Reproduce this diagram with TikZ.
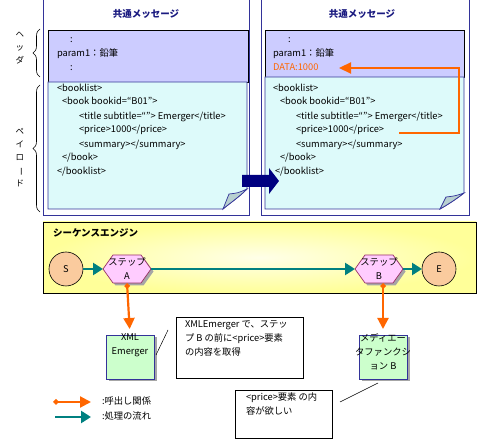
\documentclass[tikz,border=0pt]{standalone}
\usepackage{fontspec}
\usepackage{graphicx}
\setmainfont{Noto Sans CJK JP}
\usetikzlibrary{arrows.meta,shadows,backgrounds,calc,decorations.pathreplacing}
\pgfdeclarelayer{mid}
\pgfsetlayers{background,mid,main}
\definecolor{navy}{HTML}{333399}
\definecolor{titleblue}{HTML}{1A1A80}
\definecolor{arrownavy}{HTML}{000080}
\definecolor{hdr}{HTML}{CCCCFF}
\definecolor{pay}{HTML}{DDFAFA}
\definecolor{foldc}{HTML}{B8D0D0}
\definecolor{tealc}{HTML}{008080}
\definecolor{orng}{HTML}{FF6600}
\definecolor{peach}{HTML}{FACB9E}
\definecolor{pinkfill}{HTML}{FFCCFF}
\definecolor{hexborder}{HTML}{993366}
\definecolor{greenfill}{HTML}{CCFFCC}
\definecolor{ylw}{HTML}{FFFF99}
\definecolor{ylwin}{HTML}{FFFFE8}
\begin{document}
\begin{tikzpicture}[x=1pt,y=-1pt,
  every node/.style={inner sep=0pt,outer sep=0pt,font=\fontsize{9.3}{14}\selectfont},
  txt/.style={anchor=west,text height=6.5pt,text depth=1.5pt},
  ttl/.style={font=\fontsize{9.5}{12}\selectfont\bfseries,text=titleblue},
  msgbox/.style={draw=navy,fill=white,line width=0.8pt},
  hdrbox/.style={draw=black,fill=hdr,line width=0.6pt},
  paybox/.style={draw=navy,fill=pay,line width=0.8pt},
  vtext/.style={align=center,font=\fontsize{8.5}{13}\selectfont},
  flow/.style={draw=tealc,line width=2.6pt,-{Triangle[length=10pt,width=12pt]}},
  call/.style={draw=orng,line width=2.2pt,{Diamond[length=6pt,width=6pt]}-{Triangle[length=11pt,width=11pt]}},
  callr/.style={draw=orng,line width=2.2pt,-{Triangle[length=12pt,width=11pt]}},
  endpt/.style={circle,draw=black,fill=peach,minimum size=34pt,line width=0.6pt},
  stepbox/.style={minimum width=48pt,minimum height=28pt,align=center},
  hexshape/.style={fill=pinkfill,draw=hexborder,line width=0.7pt},
  modbox/.style={draw=navy,fill=greenfill,line width=0.8pt,minimum width=48pt,minimum height=44pt,
     drop shadow={shadow xshift=2.5pt,shadow yshift=-2.5pt,fill=gray!70,opacity=1}},
  notebox/.style={draw=black,fill=white,line width=0.7pt},
  bracestyle/.style={decorate,decoration={brace,amplitude=7pt,mirror},line width=0.6pt}
]
\useasboundingbox (0,0) rectangle (477,443);

% ---------- left message ----------
\draw[msgbox] (43,-3) rectangle (249,215);
\node[ttl] (titleL) at (146,14) {共通メッセージ};
\draw[hdrbox] (48,30) rectangle (248,82);
\draw[paybox] (48,82) -- (247,82) -- (247,189) .. controls (238,198) and (230,203) .. (223,209) -- (48,209) -- cycle;
\draw[draw=navy,fill=foldc,line width=0.7pt] (223,209) .. controls (226,202) .. (229,194) .. controls (238,193) .. (247,189) .. controls (238,198) and (230,203) .. (223,209) -- cycle;
\node[txt] (hL1) at (70,40) {:};
\node[txt] (hL2) at (57,54) {param1：鉛筆};
\node[txt] (hL3) at (70,68) {:};
\node[txt] (pL1) at (57,89) {<booklist>};
\node[txt] (pL2) at (62,102) {<book bookid=“B01”>};
\node[txt] (pL3) at (79,117) {<title subtitle=“”> Emerger</title>};
\node[txt] (pL4) at (79,130) {<price>1000</price>};
\node[txt] (pL5) at (79,145) {<summary></summary>};
\node[txt] (pL6) at (62,158) {</book>};
\node[txt] (pL7) at (57,172) {</booklist>};

% braces
\draw[bracestyle] (40,29) -- (40,77);
\draw[bracestyle] (40,85) -- (40,212);
\node[vtext] (hdrlabel) at (20,48) {ヘ\\ッ\\ダ};
\node[vtext] (paylabel) at (20,158) {ペ\\イ\\ロ\\\rotatebox[origin=c]{-90}{ー}\\ド};

% ---------- right message ----------
\draw[msgbox] (261,-3) rectangle (469,215);
\node[ttl] (titleR) at (362,14) {共通メッセージ};
\draw[hdrbox] (265,30) rectangle (464,77);
\draw[paybox] (265,77) -- (464,77) -- (464,193) .. controls (455,200) and (447,205) .. (440,209) -- (265,209) -- cycle;
\draw[draw=navy,fill=foldc,line width=0.7pt] (440,209) .. controls (443,203) .. (446,197) .. controls (455,196) .. (464,193) .. controls (455,200) and (447,205) .. (440,209) -- cycle;
\node[txt] (hR1) at (288,40) {:};
\node[txt] (hR2) at (273,54) {param1：鉛筆};
\node[txt,text=orng] (dataR) at (273,68) {DATA:1000};
\node[txt] (pR1) at (273,89) {<booklist>};
\node[txt] (pR2) at (280,102) {<book bookid=“B01”>};
\node[txt] (pR3) at (296,117) {<title subtitle=“”> Emerger</title>};
\node[txt] (priceR) at (296,130) {<price>1000</price>};
\node[txt] (pR5) at (296,145) {<summary></summary>};
\node[txt] (pR6) at (280,158) {</book>};
\node[txt] (pR7) at (275,172) {</booklist>};

\coordinate (turnB) at (459,133);
\coordinate (turnT) at (459,68);
\coordinate (priceStart) at (399,133);
\coordinate (dataTip) at (339,68);
\draw[callr] (priceStart) -- (turnB) -- (turnT) -- (dataTip);

% big arrow
\fill[arrownavy] (242,175) -- (269,175) -- (269,168) -- (279,181) -- (269,194) -- (269,187) -- (242,187) -- cycle;
\coordinate (bigarrow) at (260,181);

% ---------- sequence engine ----------
\begin{scope}[on background layer]
\node[draw=black,line width=0.8pt,inner color=ylwin,outer color=ylw,minimum width=433pt,minimum height=71pt] (engine) at (259.5,257.5) {};
\end{scope}
\node[font=\fontsize{9.5}{12}\selectfont\bfseries,anchor=west] (engtitle) at (53,233) {シーケンスエンジン};

\node[endpt] (S) at (66,269) {S};
\node[endpt] (E) at (439,269) {E};

\node[stepbox] (A) at (127,269) {ステップ\\A};
\node[stepbox] (B) at (379,269) {ステップ\\B};
\begin{pgfonlayer}{mid}
\foreach \n in {A,B}{
  \fill[gray!70] ($(\n.west)+(2.5,2.5)$) -- ($(\n.north west)+(12.5,2.5)$) -- ($(\n.north east)+(-7.5,2.5)$) -- ($(\n.east)+(2.5,2.5)$) -- ($(\n.south east)+(-7.5,2.5)$) -- ($(\n.south west)+(12.5,2.5)$) -- cycle;
  \draw[hexshape] (\n.west) -- ($(\n.north west)+(10,0)$) -- ($(\n.north east)+(-10,0)$) -- (\n.east) -- ($(\n.south east)+(-10,0)$) -- ($(\n.south west)+(10,0)$) -- cycle;
}
\end{pgfonlayer}

\draw[flow] (S) -- (A.west);
\draw[flow] (A.east) -- (B.west);
\draw[flow] (B.east) -- (E);

% ---------- modules ----------
\node[modbox] (xml) at (130,357) {};
\node[align=center,anchor=north] (xmltext) at (130,334) {XML\\Emerger};
\node[modbox] (med) at (383,357) {};
\node[align=center,anchor=north] (medtext) at (383,334) {メディエー\\タファンクシ\\ョン B};

\draw[call,shorten >=6pt] (A.south) -- (xml.north);
\draw[call,shorten >=6pt] (B.south -| med.north) -- (med.north);

% ---------- notes ----------
\node[notebox,minimum width=127pt,minimum height=61pt] (note1) at (239.5,347.5) {};
\node[anchor=north west,align=left] (note1text) at (185,321) {XMLEmerger で、ステッ\\プ B の前に<price>要素\\の内容を取得};
\coordinate (n1a) at (156,355);
\coordinate (n1b) at (168,330);
\draw[line width=0.5pt] (n1a) -- (n1b);

\node[notebox,minimum width=97pt,minimum height=48pt] (note2) at (283.5,414) {};
\node[anchor=north west,align=left] (note2text) at (246,393) {<price>要素 の内\\容が欲しい};
\coordinate (n2a) at (340,402);
\coordinate (n2b) at (378,383);
\draw[line width=0.5pt] (n2a) -- (n2b);

% ---------- legend ----------
\coordinate (lg1a) at (53,402);
\coordinate (lg1b) at (91,402);
\coordinate (lg2a) at (55,417);
\coordinate (lg2b) at (91,417);
\draw[call] (lg1a) -- (lg1b);
\draw[flow] (lg2a) -- (lg2b);
\node[txt] (lgt1) at (102,402) {:呼出し関係};
\node[txt] (lgt2) at (102,417) {:処理の流れ};
\end{tikzpicture}
\end{document}
